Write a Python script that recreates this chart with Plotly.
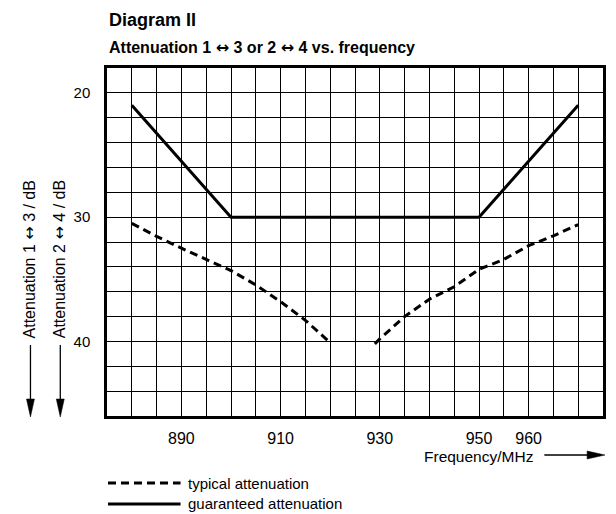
import plotly.graph_objects as go

# ---- data ----
freq_guaranteed = [880, 900, 950, 970]
att_guaranteed = [21, 30, 30, 21]

freq_typical_low = [880, 885, 890, 895, 900, 905, 910, 915, 920]
att_typical_low = [30.5, 31.55, 32.5, 33.4, 34.3, 35.45, 36.8, 38.3, 40.1]

freq_typical_high = [929, 930, 935, 940, 945, 950, 955, 960, 965, 970]
att_typical_high = [40.2, 39.8, 38.0, 36.6, 35.6, 34.2, 33.4, 32.3, 31.5, 30.6]

x_tickvals = [890, 910, 930, 950, 960]
y_tickvals = [20, 30, 40]

# ---- layout geometry (pixels, in reference-picture coordinates) ----
OFF = 8  # page body margin
W, H = 616 - OFF, 514 - OFF
PL, PR, PT, PB = 107, 606, 68, 416  # plot box in reference coords
ML, MT = PL - OFF, PT - OFF
MR = W - (PR - OFF)
MB = H - (PB - OFF)
PW = W - ML - MR
PH = H - MT - MB


def px(x):
    return (x - OFF - ML) / PW


def py(y):
    return (H - MB - (y - OFF)) / PH


FONT = "Liberation Sans, Arial, Helvetica, sans-serif"
ARROW = '<span style="font-family:DejaVu Sans">\u2194</span>'
DASH = "8px,5px"
FS = 15

fig = go.Figure()

fig.add_trace(go.Scatter(
    x=freq_typical_low + [None] + freq_typical_high,
    y=att_typical_low + [None] + att_typical_high,
    mode="lines", line=dict(color="black", width=3, dash=DASH),
    connectgaps=False, showlegend=False, name="typical attenuation"))

fig.add_trace(go.Scatter(
    x=freq_guaranteed, y=att_guaranteed,
    mode="lines", line=dict(color="black", width=3),
    showlegend=False, name="guaranteed attenuation"))

axis_common = dict(
    showline=True, linecolor="black", linewidth=2.5, mirror=True,
    showgrid=True, gridcolor="black", gridwidth=1,
    ticks="", zeroline=False,
)

fig.update_xaxes(
    range=[875, 975], tickmode="array", tickvals=x_tickvals,
    minor=dict(dtick=5, tick0=875, showgrid=True, gridcolor="black", gridwidth=1),
    ticklabelstandoff=6,
    tickfont=dict(family=FONT, size=16, color="black"),
    **axis_common)

fig.update_yaxes(
    range=[46, 18], tickmode="array", tickvals=y_tickvals,
    minor=dict(dtick=2, tick0=18, showgrid=True, gridcolor="black", gridwidth=1),
    ticklabelstandoff=11,
    tickfont=dict(family=FONT, size=15, color="black"),
    **axis_common)

annotations = [
    dict(text="<b>Diagram II</b>", x=px(107), y=py(20), xanchor="left", yanchor="middle",
         font=dict(family=FONT, size=18, color="black")),
    dict(text=f"<b>Attenuation 1 {ARROW} 3 or 2 {ARROW} 4 vs. frequency</b>", x=px(107), y=py(47),
         xanchor="left", yanchor="middle", font=dict(family=FONT, size=16, color="black")),
    dict(text=f"Attenuation 1 {ARROW} 3 / dB", x=px(29), y=py(340), textangle=-90,
         xanchor="center", yanchor="bottom", font=dict(family=FONT, size=16, color="black")),
    dict(text=f"Attenuation 2 {ARROW} 4 / dB", x=px(59), y=py(340), textangle=-90,
         xanchor="center", yanchor="bottom", font=dict(family=FONT, size=16, color="black")),
    dict(text="Frequency/MHz", x=px(538), y=py(456), xanchor="right", yanchor="middle",
         font=dict(family=FONT, size=15.5, color="black")),
    dict(text="typical attenuation", x=px(186), y=py(483), xanchor="left", yanchor="middle",
         font=dict(family=FONT, size=FS, color="black")),
    dict(text="guaranteed attenuation", x=px(186), y=py(503), xanchor="left", yanchor="middle",
         font=dict(family=FONT, size=FS, color="black")),
]
for a in annotations:
    a.update(xref="paper", yref="paper", showarrow=False)

shapes = []
# vertical arrows at left
for xa in (30, 60):
    shapes.append(dict(type="line", xref="paper", yref="paper",
                       x0=px(xa), x1=px(xa), y0=py(345), y1=py(402),
                       line=dict(color="black", width=1.3)))
    shapes.append(dict(type="path", xref="paper", yref="paper",
                       path=f"M {px(xa-4)},{py(399)} L {px(xa+4)},{py(399)} L {px(xa)},{py(417)} Z",
                       fillcolor="black", line=dict(color="black", width=0.5)))
# frequency arrow
shapes.append(dict(type="line", xref="paper", yref="paper",
                   x0=px(547), x1=px(592), y0=py(455), y1=py(455),
                   line=dict(color="black", width=1.3)))
shapes.append(dict(type="path", xref="paper", yref="paper",
                   path=f"M {px(590)},{py(451)} L {px(590)},{py(459)} L {px(608)},{py(455)} Z",
                   fillcolor="black", line=dict(color="black", width=0.5)))
# legend samples
shapes.append(dict(type="line", xref="paper", yref="paper",
                   x0=px(108), x1=px(181), y0=py(483), y1=py(483),
                   line=dict(color="black", width=3, dash=DASH)))
shapes.append(dict(type="line", xref="paper", yref="paper",
                   x0=px(108), x1=px(181), y0=py(504), y1=py(504),
                   line=dict(color="black", width=3)))

fig.update_layout(
    width=W, height=H,
    margin=dict(l=ML, r=MR, t=MT, b=MB),
    paper_bgcolor="white", plot_bgcolor="white",
    showlegend=False,
    annotations=annotations, shapes=shapes,
    font=dict(family=FONT, color="black"),
)

fig.write_html("out.html")
